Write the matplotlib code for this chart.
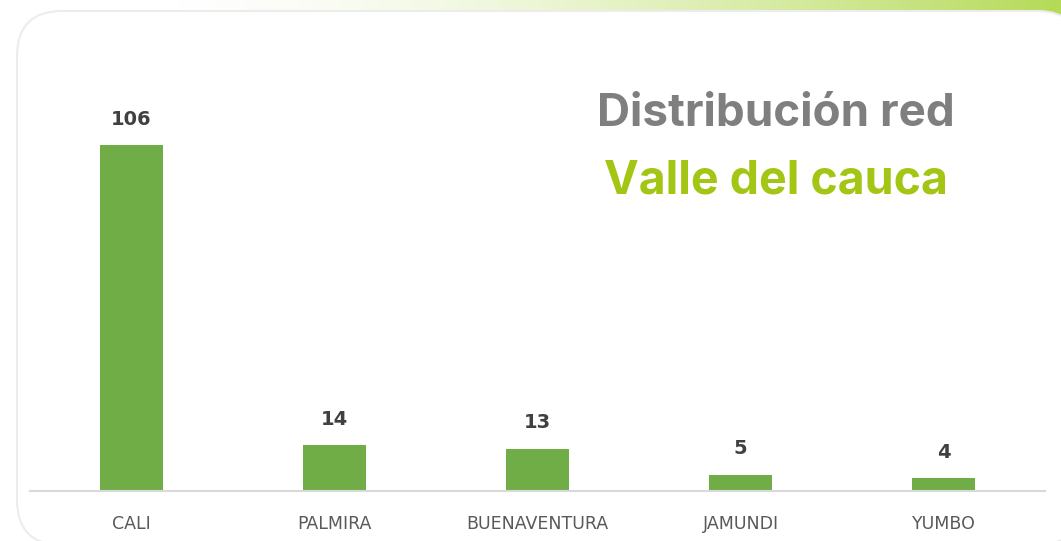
import numpy as np
import matplotlib
matplotlib.use("Agg")
import matplotlib.pyplot as plt
from matplotlib.patches import FancyBboxPatch
from matplotlib.colors import LinearSegmentedColormap

# data
cities = ["CALI", "PALMIRA", "BUENAVENTURA", "JAMUNDI", "YUMBO"]
sedes = [106, 14, 13, 5, 4]

title_top = "Distribución red"
title_bottom = "Valle del cauca"

W, H = 1061, 541
fig = plt.figure(figsize=(W / 100, H / 100), dpi=100)

# background layer in pixel coordinates
bg = fig.add_axes([0, 0, 1, 1], zorder=0)
bg.set_xlim(0, W)
bg.set_ylim(H, 0)
bg.axis("off")

# green band behind the card (top edge)
grad = np.clip((np.linspace(0, W, 600) - 150) / (W - 150), 0, 1) ** 1.6
band = LinearSegmentedColormap.from_list("band", ["#ffffff", "#b5da57"])
bg.imshow(grad[np.newaxis, :], cmap=band, aspect="auto",
          extent=[0, W, 60, 0], vmin=0, vmax=1, zorder=0)

card = FancyBboxPatch((17, 11), 1082 - 17, 545 - 11,
                      boxstyle="round,pad=0,rounding_size=45",
                      facecolor="white", edgecolor="#ececec", linewidth=1.5,
                      zorder=1)
bg.add_patch(card)

# titles, sized to the width they take in the original
renderer = fig.canvas.get_renderer()


def fitted_title(txt, y, color, width):
    t = bg.text(776, y, txt, fontfamily="Inter", fontweight="bold",
                fontsize=30, color=color, ha="center", va="baseline", zorder=3)
    w = t.get_window_extent(renderer).width
    t.set_fontsize(30 * width / w)
    return t


fitted_title(title_top, 126, "#7f7f7f", 358)
fitted_title(title_bottom, 194, "#a3c614", 345)

# bar chart
ax = fig.add_axes([30 / W, 50 / H, 1015 / W, 431 / H], zorder=2)
ax.patch.set_alpha(0)
x = np.arange(len(cities))
ax.bar(x, sedes, width=0.315, color="#70ad47")
ax.set_xlim(-0.5, len(cities) - 0.5)
ax.set_ylim(0, 132)

for xi, v in zip(x, sedes):
    ax.annotate(str(v), (xi, v), xytext=(0, 18.5), textcoords="offset points",
                ha="center", va="center", fontsize=14, fontweight="bold",
                color="#404040")

ax.set_xticks(x)
ax.set_xticklabels(cities, fontsize=12.5, color="#595959")
ax.tick_params(axis="x", length=0, pad=17)
ax.set_yticks([])
for side in ["top", "right", "left"]:
    ax.spines[side].set_visible(False)
ax.spines["bottom"].set_color("#d9d9d9")
ax.spines["bottom"].set_linewidth(1.5)

fig.savefig("out.png", dpi=100)
